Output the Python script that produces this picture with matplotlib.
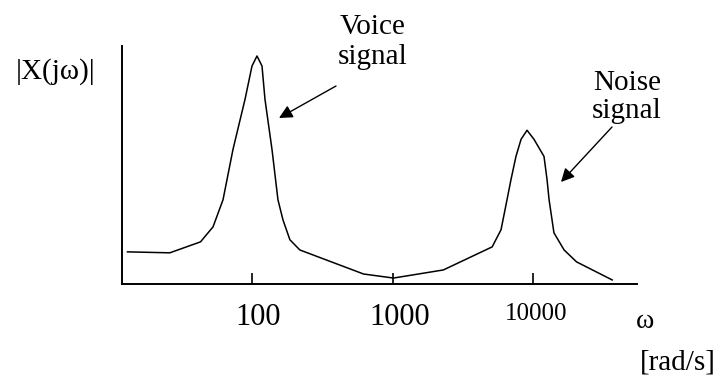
import matplotlib.pyplot as plt
from matplotlib.transforms import ScaledTranslation

# curve (omega in rad/s, magnitude in axis units 0..1)
omega = [13, 26, 43, 52.8, 62.2, 73.2, 89.2, 100, 108.5, 117.8,
         123.7, 138.8, 153, 166, 186, 219, 622, 1016, 2300, 5120,
         5920, 6530, 6970, 7560, 8220, 9060, 10160, 11970, 12580, 13010,
         14090, 16640, 20400, 36600]
magnitude = [0.135, 0.131, 0.177, 0.24, 0.354, 0.565, 0.776, 0.916, 0.958, 0.916,
             0.776, 0.565, 0.354, 0.27, 0.186, 0.143, 0.042, 0.025, 0.059, 0.156,
             0.228, 0.354, 0.439, 0.536, 0.608, 0.646, 0.608, 0.536, 0.439, 0.354,
             0.215, 0.143, 0.093, 0.017]

tick_values = [100, 1000, 10000]
tick_labels = ["100", "1000", "10000"]

W, H = 728, 381
SERIF = "Liberation Serif"


def fig_xy(px, py):
    # pixel position (top-left origin) -> figure fraction
    return px / W, 1 - py / H


fig = plt.figure(figsize=(W / 100, H / 100), dpi=100)
ax = fig.add_axes([122 / W, 1 - 284 / H, (637 - 122) / W, (284 - 46) / H])

ax.plot(omega, magnitude, color="black", lw=1.1)
ax.set_xscale("log")
ax.set_xlim(11.88, 54950)
ax.set_ylim(0, 1)

for side in ["top", "right"]:
    ax.spines[side].set_visible(False)
for side in ["left", "bottom"]:
    ax.spines[side].set_linewidth(1.4)

ax.set_yticks([])
ax.minorticks_off()
ax.set_xticks(tick_values)
ax.set_xticklabels(tick_labels, fontfamily=SERIF)
ax.tick_params(axis="x", direction="in", length=8, width=1.2, pad=14, labelsize=22)

labels = ax.get_xticklabels()
labels[2].set_fontsize(18)
# hand-lettered labels sit a little right of their ticks
for lab, dx in zip(labels, [6, 7, 3]):
    lab.set_transform(lab.get_transform() + ScaledTranslation(dx / 100, 0, fig.dpi_scale_trans))

fig.text(*fig_xy(56, 72), "|X(jω)|", fontfamily=SERIF, fontsize=21, ha="center", va="center")
fig.text(*fig_xy(645, 322), "ω", fontfamily=SERIF, fontsize=20, ha="center", va="center")
fig.text(*fig_xy(678, 362), "[rad/s]", fontfamily=SERIF, fontsize=21, ha="center", va="center")

fig.text(*fig_xy(373, 42), "Voice\nsignal", fontfamily=SERIF, fontsize=21,
         ha="center", va="center", linespacing=1.15)
fig.text(*fig_xy(627, 97), "Noise\nsignal", fontfamily=SERIF, fontsize=21,
         ha="center", va="center", linespacing=1.15)

arrow = dict(arrowstyle="-|>", color="black", lw=1.0, mutation_scale=20, shrinkA=0, shrinkB=0)
ax.annotate("", xy=fig_xy(279, 118), xytext=fig_xy(336, 86),
            xycoords="figure fraction", textcoords="figure fraction", arrowprops=arrow)
ax.annotate("", xy=fig_xy(561, 182), xytext=fig_xy(612, 127),
            xycoords="figure fraction", textcoords="figure fraction", arrowprops=arrow)

fig.savefig("out.png", dpi=100)
